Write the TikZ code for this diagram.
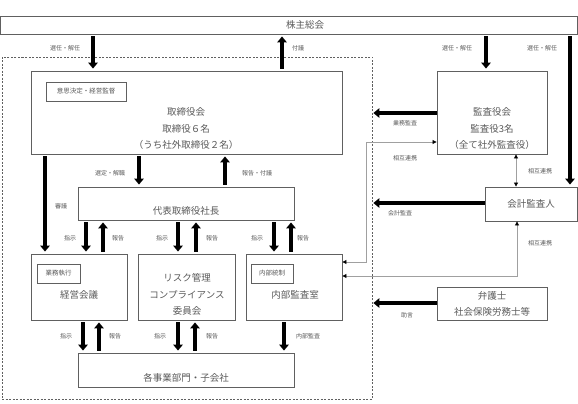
\documentclass[tikz,border=0pt]{standalone}
\usepackage{fontspec}
\setmainfont{Noto Sans CJK JP}
\usetikzlibrary{arrows.meta}
\definecolor{txt}{HTML}{595959}
\definecolor{ln}{HTML}{606060}
\definecolor{thinln}{HTML}{A0A0A0}
\begin{document}
\begin{tikzpicture}[x=1pt,y=-1pt,
 box/.style={draw=ln,line width=0.9pt,inner sep=0pt,rectangle},
 main/.style={text=txt,font=\fontsize{9.5}{16.5}\selectfont,inner sep=0pt,align=center},
 lbl/.style={text=txt,font=\fontsize{6}{7}\selectfont,inner sep=0pt},
 tagtxt/.style={text=txt,font=\fontsize{6.5}{7}\selectfont,inner sep=0pt},
 big/.style={line width=3.6pt,-{Triangle[length=6pt,width=9.5pt]},shorten <=2pt,shorten >=2pt},
 thinarr/.style={draw=thinln,line width=0.8pt,{Triangle[length=4pt,width=4pt,color=black]}-{Triangle[length=4pt,width=4pt,color=black]}}
]
\useasboundingbox (0,0) rectangle (578,404);

% outer dashed region
\node[draw=ln,line width=0.8pt,dash pattern=on 2pt off 1.5pt,minimum width=370pt,minimum height=342pt,inner sep=0pt] (outer) at (187,228) {};

% boxes
\node[box,minimum width=576.5pt,minimum height=18pt] (kabu) at (289,25) {};
\node[main] (kabuT) at (305,25) {株主総会};

\node[box,minimum width=311pt,minimum height=83pt] (tori) at (186.5,112.5) {};
\node[box,minimum width=80pt,minimum height=19pt] (toriTag) at (86,91.5) {};
\node[tagtxt] (toriTagT) at (86,91.5) {意思決定・経営監督};
\node[main] (toriT) at (186,128.5) {取締役会\\取締役６名\\（うち社外取締役２名）};

\node[box,minimum width=110pt,minimum height=83pt] (kansa) at (492,112.5) {};
\node[main] (kansaT) at (492,128.5) {監査役会\\監査役3名\\（全て社外監査役）};

\node[box,minimum width=92pt,minimum height=34pt] (kaikei) at (531,204) {};
\node[main] (kaikeiT) at (531,204) {会計監査人};

\node[box,minimum width=110pt,minimum height=33pt] (bengo) at (492,303.5) {};
\node[main] (bengoT) at (492,304) {弁護士\\社会保険労務士等};

\node[box,minimum width=216pt,minimum height=33pt] (daihyo) at (186,203.5) {};
\node[main] (daihyoT) at (186,211) {代表取締役社長};

\node[box,minimum width=96pt,minimum height=66pt] (keiei) at (79,287) {};
\node[box,minimum width=43pt,minimum height=19pt] (keieiTag) at (58.5,273.5) {};
\node[tagtxt] (keieiTagT) at (58.5,273.5) {業務執行};
\node[main] (keieiT) at (79,295) {経営会議};

\node[box,minimum width=97pt,minimum height=66pt] (risk) at (186.5,287) {};
\node[main] (riskT) at (187,294.5) {リスク管理\\コンプライアンス\\委員会};

\node[box,minimum width=96pt,minimum height=66pt] (naibu) at (294,287) {};
\node[box,minimum width=42pt,minimum height=19pt] (naibuTag) at (272,273.5) {};
\node[tagtxt] (naibuTagT) at (272,273.5) {内部統制};
\node[main] (naibuT) at (295,295) {内部監査室};

\node[box,minimum width=216pt,minimum height=34pt] (jigyo) at (186,370) {};
\node[main] (jigyoT) at (186,378) {各事業部門・子会社};

% thick arrows
\draw[big] (kabu.south -| 93,0) -- (tori.north -| 93,0);
\draw[big] (tori.north -| 282,0) -- (kabu.south -| 282,0);
\draw[big] (kabu.south -| 486,0) -- (kansa.north -| 486,0);
\draw[big] (kabu.south -| 570,0) -- (kaikei.north -| 570,0);
\draw[big,shorten >=1pt,shorten <=0pt] (kansa.west |- 0,113) -- (outer.east |- 0,113);
\draw[big,shorten >=1pt,shorten <=0pt] (kaikei.west |- 0,203) -- (outer.east |- 0,203);
\draw[big,shorten >=1pt,shorten <=0pt] (bengo.west |- 0,303) -- (outer.east |- 0,303);

\draw[big] (tori.south -| 45,0) -- (keiei.north -| 45,0);
\draw[big] (tori.south -| 139,0) -- (daihyo.north -| 139,0);
\draw[big] (daihyo.north -| 225,0) -- (tori.south -| 225,0);

\draw[big] (daihyo.south -| 86,0) -- (keiei.north -| 86,0);
\draw[big] (keiei.north -| 103,0) -- (daihyo.south -| 103,0);
\draw[big] (daihyo.south -| 178,0) -- (risk.north -| 178,0);
\draw[big] (risk.north -| 196,0) -- (daihyo.south -| 196,0);
\draw[big] (daihyo.south -| 274,0) -- (naibu.north -| 274,0);
\draw[big] (naibu.north -| 291,0) -- (daihyo.south -| 291,0);

\draw[big] (keiei.south -| 83,0) -- (jigyo.north -| 83,0);
\draw[big] (jigyo.north -| 99,0) -- (keiei.south -| 99,0);
\draw[big] (risk.south -| 178,0) -- (jigyo.north -| 178,0);
\draw[big] (jigyo.north -| 195,0) -- (risk.south -| 195,0);
\draw[big] (naibu.south -| 284,0) -- (jigyo.north -| 284,0);

% thin connectors
\draw[thinarr] (naibu.east |- 0,262) -- (366,262) -- (366,142) -- (kansa.west |- 0,142);
\draw[thinarr] (kansa.south -| 516,0) -- (kaikei.north -| 516,0);
\draw[thinarr] (naibu.east |- 0,276) -- (517,276) -- (kaikei.south -| 517,0);

% labels
\node[lbl] (l1) at (65,48) {選任・解任};
\node[lbl] (l2) at (298,48) {付議};
\node[lbl] (l3) at (457,48) {選任・解任};
\node[lbl] (l4) at (542,48) {選任・解任};
\node[lbl] (l5) at (405,123) {業務監査};
\node[lbl] (l6) at (405,158) {相互連携};
\node[lbl] (l7) at (540,171) {相互連携};
\node[lbl] (l8) at (400,213) {会計監査};
\node[lbl] (l9) at (540,243) {相互連携};
\node[lbl] (l10) at (407,315) {助言};
\node[lbl] (l11) at (110,173) {選定・解職};
\node[lbl] (l12) at (257,173) {報告・付議};
\node[lbl] (l13) at (61,206) {審議};
\node[lbl] (l14) at (70,238) {指示};
\node[lbl] (l15) at (118,238) {報告};
\node[lbl] (l16) at (162,238) {指示};
\node[lbl] (l17) at (212,238) {報告};
\node[lbl] (l18) at (257,238) {指示};
\node[lbl] (l19) at (303,238) {報告};
\node[lbl] (l20) at (66,336) {指示};
\node[lbl] (l21) at (115,336) {報告};
\node[lbl] (l22) at (160,336) {指示};
\node[lbl] (l23) at (212,336) {報告};
\node[lbl] (l24) at (308,336) {内部監査};
\end{tikzpicture}
\end{document}
